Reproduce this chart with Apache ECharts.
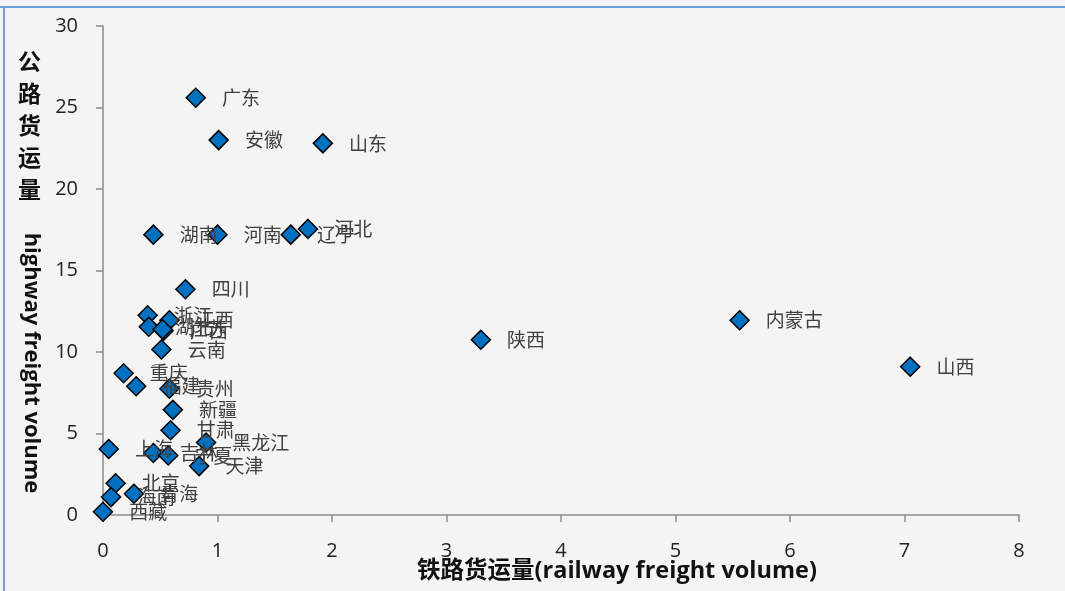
<!DOCTYPE html>
<html>
<head>
<meta charset="utf-8">
<style>
html,body{margin:0;padding:0;background:#f4f4f4;}
#chart{width:1065px;height:591px;}
</style>
<script src="https://cdn.jsdelivr.net/npm/echarts@6/dist/echarts.min.js"></script>
</head>
<body>
<div id="chart"></div>
<script>
// Province names
const provinces = ['广东','安徽','山东','湖南','河南','辽宁','河北','四川','内蒙古','陕西','山西',
  '浙江','江西','湖北','广西','江苏','云南','重庆','福建','贵州','新疆','甘肃','黑龙江',
  '上海','吉林','宁夏','天津','北京','青海','海南','西藏'];
// Railway freight volume (x)
const railway = [0.81,1.01,1.92,0.44,1.00,1.64,1.79,0.72,5.56,3.30,7.05,
  0.39,0.58,0.40,0.53,0.52,0.51,0.18,0.29,0.58,0.61,0.59,0.90,
  0.05,0.44,0.57,0.84,0.11,0.27,0.07,0.00];
// Highway freight volume (y)
const highway = [25.6,23.0,22.8,17.2,17.2,17.2,17.55,13.85,11.95,10.75,9.1,
  12.25,11.95,11.55,11.3,11.4,10.15,8.7,7.9,7.75,6.45,5.2,4.45,
  4.05,3.8,3.65,3.0,1.95,1.3,1.1,0.2];
const xTicks = [0,1,2,3,4,5,6,7,8];
const yTicks = [0,5,10,15,20,25,30];

const data = provinces.map((p,i)=>({name:p, value:[railway[i], highway[i]]}));

const chart = echarts.init(document.getElementById('chart'));
chart.setOption({
  backgroundColor:'#f4f4f4',
  animation:false,
  grid:{left:103, right:46, top:26, bottom:76},
  xAxis:{
    type:'value', min:xTicks[0], max:xTicks[xTicks.length-1], interval:1,
    splitLine:{show:false},
    axisLine:{show:true, lineStyle:{color:'#8a8a8a', width:1.5}},
    axisTick:{show:true, inside:false, length:7, lineStyle:{color:'#8a8a8a', width:1.5}},
    axisLabel:{margin:26, fontSize:20, color:'#222', fontFamily:'Open Sans'}
  },
  yAxis:{
    type:'value', min:yTicks[0], max:yTicks[yTicks.length-1], interval:5,
    splitLine:{show:false},
    axisLine:{show:true, onZero:false, lineStyle:{color:'#8a8a8a', width:1.5}},
    axisTick:{show:true, inside:false, length:7, lineStyle:{color:'#8a8a8a', width:1.5}},
    axisLabel:{margin:25, fontSize:20, color:'#222', fontFamily:'Open Sans'}
  },
  graphic:[
    {type:'rect', shape:{x:0,y:6,width:1065,height:2}, style:{fill:'#6f9fd8'}, silent:true},
    {type:'rect', shape:{x:3,y:6,width:2,height:585}, style:{fill:'#6f9fd8'}, silent:true},
    {type:'text', left:18, top:45, style:{text:'公\n路\n货\n运\n量', font:'bold 23px "Noto Sans CJK SC"', fill:'#111', lineHeight:32}},
    {type:'text', x:31, y:363, rotation:-Math.PI/2,
     style:{text:'highway freight volume', font:'bold 22px "Open Sans"', fill:'#111', align:'center', verticalAlign:'middle'}},
    {type:'text', x:617, y:571,
     style:{text:'铁路货运量(railway freight volume)', font:'bold 23.5px "Open Sans", "Noto Sans CJK SC"', fill:'#111', align:'center', verticalAlign:'middle'}}
  ],
  series:[{
    type:'scatter',
    data:data,
    symbol:'diamond',
    symbolSize:[19,19],
    itemStyle:{color:'#0070c0', borderColor:'#000', borderWidth:1.5, opacity:1},
    label:{show:true, position:'right', distance:16, formatter:'{b}', fontSize:19,
      color:'#404040', fontFamily:'"Noto Sans CJK SC"'},
    labelLayout:{hideOverlap:false}
  }]
});
</script>
</body>
</html>
